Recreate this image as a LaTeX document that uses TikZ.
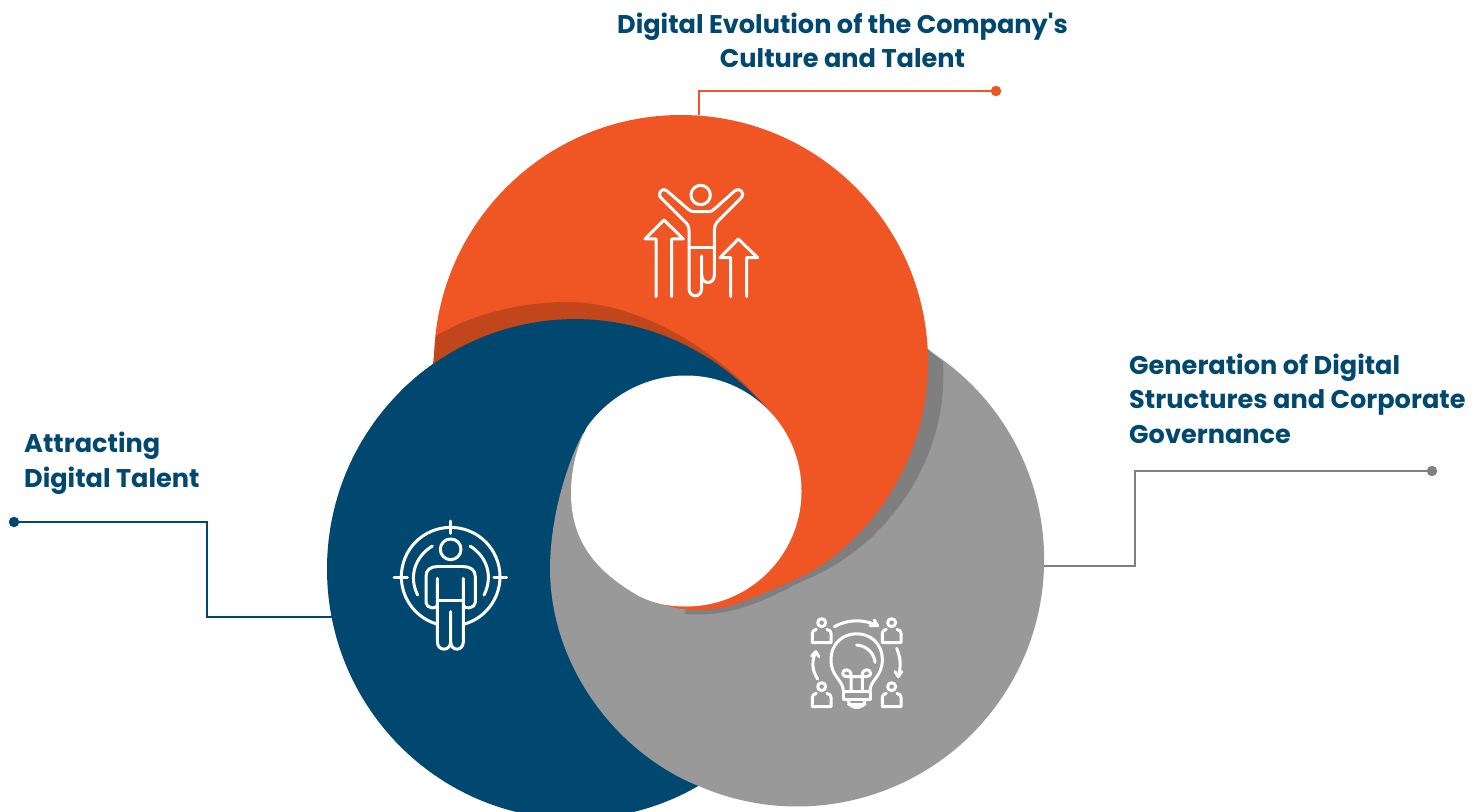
\documentclass[tikz,border=0pt]{standalone}
\usepackage{fontspec}
\newfontfamily\plainp{Poppins}
\definecolor{cblue}{HTML}{00486F}
\definecolor{corange}{HTML}{F05623}
\definecolor{cbrown}{HTML}{C2461C}
\definecolor{cgray}{HTML}{999999}
\definecolor{cdgray}{HTML}{7F7F7F}
\definecolor{cline}{HTML}{808080}
\tikzset{
  title/.style={font=\plainp\fontsize{25.6}{34.5}\selectfont\bfseries, text=cblue, inner sep=0pt, align=left},
  iconline/.style={draw=white, line width=3pt, line cap=round, line join=round, fill=none},
  dot/.style={circle, minimum size=10.5pt, inner sep=0pt},
  leader/.style={line width=1.5pt}
}
\begin{document}
\begin{tikzpicture}[x=1pt,y=-1pt]
\useasboundingbox (0,0) rectangle (1480,811);
\begin{scope}
\clip (0,0) rectangle (1480,811);
% blue disc
\fill[cblue] (575,569) ellipse[x radius=248,y radius=250];
% gray shape
\fill[cgray] (928,350) arc[start angle=-58,end angle=113.3,radius=247]
  .. controls (620,755) and (551,670) .. (550,570)
  .. controls (550,520) and (565,468) .. (583,433) -- cycle;
% dark gray shadow
\fill[cdgray] (928,349) -- (943,362)
  .. controls (947,430) and (920,490) .. (872,537)
  .. controls (852,555) and (830,570) .. (805,580)
  .. controls (770,597) and (735,618) .. (685,614)
  -- (700,480) -- cycle;
% orange
\fill[corange] (434,362) arc[start angle=180,end angle=418,radius=247]
  .. controls (785,585) and (760,595) .. (733,605)
  .. controls (710,612) and (675,614) .. (640,595)
  -- (686,490) -- (600,420) -- cycle;
% brown shadow
\fill[cbrown] (436,336) .. controls (470,315) and (520,302) .. (567,302)
  .. controls (640,302) and (720,350) .. (773,415)
  -- (600,420) -- (433,364) -- cycle;
% blue top wedge
\fill[cblue] (400,392) arc[start angle=225.1,end angle=300,x radius=248,y radius=250]
  .. controls (735,373) and (757,398) .. (773,415)
  -- (686,490) -- (583,433) -- cycle;
% white core
\fill[white] (686,375.5) arc[start angle=-90,end angle=90,radius=115.5]
  .. controls (665,606.5) and (650,602) .. (637,595)
  .. controls (600,573) and (571,545) .. (571,493)
  .. controls (571,470) and (577,445) .. (587,427)
  .. controls (608,397) and (645,375.5) .. (686,375.5) -- cycle;
\end{scope}

% leader lines
\coordinate (oa) at (699,115); \coordinate (ob) at (699,91);
\node[dot,fill=corange] (od) at (996,91) {};
\draw[corange,leader] (oa) -- (ob) -- (od.center);
\coordinate (ga) at (1044,566); \coordinate (gb) at (1135,566); \coordinate (gc) at (1135,471);
\node[dot,fill=cline] (gd) at (1432,471) {};
\draw[cline,leader] (ga) -- (gb) -- (gc) -- (gd.center);
\coordinate (ba) at (332,617); \coordinate (bb) at (207,617); \coordinate (bc) at (207,522);
\node[dot,fill=cblue] (bd) at (14,522) {};
\draw[cblue,leader] (ba) -- (bb) -- (bc) -- (bd.center);

% titles
\node[title,align=center] (t1) at (842.5,40.5) {Digital Evolution of the Company's\\Culture and Talent};
\node[title,anchor=west] (t2) at (1129,398.5) {Generation of Digital\\Structures and Corporate\\Governance};
\node[title,anchor=west] (t3) at (24,463.5) {Attracting\\Digital Talent};

% icon 1
\begin{scope}[shift={(620,170)},x=0.3333pt,y=-0.3333pt]
\draw[iconline] (242,75) circle[radius=29];
\draw[iconline] (120,80) .. controls (113,70) and (128,50) .. (140,62)
 -- (205,118) .. controls (212,124) and (215,125) .. (225,125) -- (262,125)
 .. controls (272,125) and (275,124) .. (282,118)
 -- (345,62) .. controls (358,50) and (376,70) .. (365,82)
 -- (295,152) .. controls (287,160) and (283,170) .. (283,182)
 -- (283,315) .. controls (283,345) and (245,345) .. (245,315);
\draw[iconline] (120,80) -- (195,155) .. controls (203,163) and (207,170) .. (207,182)
 -- (207,355) .. controls (207,385) and (245,385) .. (245,355) -- (245,258);
\draw[iconline] (207,232) -- (283,232);
\draw[iconline] (108,380) -- (108,207) -- (75,207) -- (132,150) -- (190,207) -- (155,207) -- (155,380);
\draw[iconline] (332,380) -- (332,263) -- (300,263) -- (355,207) -- (413,263) -- (380,263) -- (380,380);
\end{scope}

% icon 2
\begin{scope}[shift={(380,510)},x=0.3333pt,y=-0.3333pt]
\draw[iconline] (170,342) arc[start angle=106.5,end angle=433.5,radius=148];
\draw[iconline] (212,33) -- (212,70);
\draw[iconline] (42,202) -- (82,202);
\draw[iconline] (342,202) -- (380,202);
\draw[iconline] (157,108) .. controls (105,140) and (85,200) .. (113,255);
\draw[iconline] (270,108) .. controls (322,140) and (340,200) .. (312,255);
\draw[iconline] (212,118) circle[radius=31];
\draw[iconline] (172,205) -- (172,395) .. controls (172,425) and (212,425) .. (212,395) -- (212,305);
\draw[iconline] (250,205) -- (250,395) .. controls (250,425) and (212,425) .. (212,395);
\draw[iconline] (172,272) -- (250,272);
\draw[iconline] (172,170) -- (250,170);
\draw[iconline] (172,170) .. controls (150,170) and (138,180) .. (138,200) -- (138,278) .. controls (138,295) and (172,300) .. (172,285);
\draw[iconline] (250,170) .. controls (272,170) and (286,180) .. (286,200) -- (286,278) .. controls (286,295) and (250,300) .. (250,285);
\end{scope}

% icon 3
\begin{scope}[shift={(795,605)},x=0.3333pt,y=-0.3333pt]
\foreach \hx/\hy in {80/53,290/53,80/245,290/245}{
  \draw[iconline] (\hx,\hy) circle[radius=12];
  \draw[iconline] (\hx-16,\hy+20) .. controls (\hx-24,\hy+22) and (\hx-28,\hy+26) .. (\hx-28,\hy+32) -- (\hx-28,\hy+60) -- (\hx+28,\hy+60) -- (\hx+28,\hy+32) .. controls (\hx+28,\hy+26) and (\hx+24,\hy+22) .. (\hx+16,\hy+20);
}
\draw[iconline] (118,65) .. controls (160,42) and (205,42) .. (248,62);
\draw[iconline] (225,62) -- (248,62) -- (238,45);
\draw[iconline] (305,130) .. controls (318,160) and (318,185) .. (310,215);
\draw[iconline] (300,200) -- (310,215) -- (320,200);
\draw[iconline] (68,222) .. controls (50,195) and (50,170) .. (62,140);
\draw[iconline] (50,153) -- (62,140) -- (72,155);
\draw[iconline] (145,258) .. controls (145,225) and (108,215) .. (108,165)
  .. controls (108,60) and (262,60) .. (262,165)
  .. controls (262,215) and (225,225) .. (225,258);
\draw[iconline] (185,120) .. controls (215,122) and (238,145) .. (240,172);
\draw[iconline] (168,258) -- (168,210) .. controls (168,190) and (143,190) .. (143,205) .. controls (143,215) and (155,215) .. (168,215) -- (202,215) .. controls (215,215) and (227,215) .. (227,205) .. controls (227,190) and (202,190) .. (202,210) -- (202,258);
\draw[iconline] (145,258) -- (225,258) -- (225,285) -- (145,285) -- cycle;
\draw[iconline] (160,285) .. controls (160,315) and (210,315) .. (210,285);
\draw[iconline] (160,300) -- (210,300);
\end{scope}
\end{tikzpicture}
\end{document}
